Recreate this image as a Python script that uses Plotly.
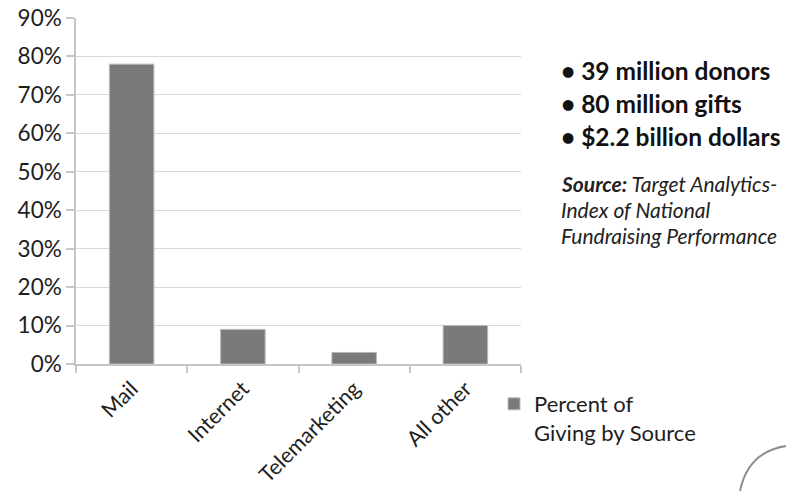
import plotly.graph_objects as go

# Share of giving by channel
categories = ["Mail", "Internet", "Telemarketing", "All other"]
share = [0.78, 0.09, 0.03, 0.10]
series_name = "Percent of<br>Giving by Source"

facts = ["• 39 million donors", "• 80 million gifts", "• $2.2 billion dollars"]
source_lines = ["<b>Source:</b> Target Analytics-", "Index of National", "Fundraising Performance"]

W, H = 786, 491
L, R, T, B = 76, 265, 18, 127
pw, ph = W - L - R, H - T - B


def px(x):
    return (x - L) / pw


def py(y):
    return (H - B - y) / ph


FONT = "Lato, Carlito, Calibri, sans-serif"
TXT = "#1e1e1e"

fig = go.Figure()
fig.add_trace(go.Bar(
    x=categories, y=share, name=series_name,
    marker=dict(color="#7a7a7a", line=dict(color="#b8b8b8", width=1)),
    showlegend=True,
))

fig.update_layout(
    width=W, height=H,
    margin=dict(l=L, r=R, t=T, b=B, autoexpand=False),
    paper_bgcolor="white", plot_bgcolor="white",
    bargap=0.6,
    font=dict(family=FONT, size=22, color=TXT),
    showlegend=True,
    legend=dict(x=px(494), y=py(383), xanchor="left", yanchor="top",
                font=dict(size=22, color=TXT), bgcolor="rgba(0,0,0,0)",
                valign="top", tracegroupgap=0),
    xaxis=dict(type="category", tickangle=-45, showline=True,
               linecolor="#c6c6c6", linewidth=1.5, ticks="outside",
               tickson="boundaries", ticklen=7, tickcolor="#c6c6c6",
               tickwidth=1.5, showgrid=False, fixedrange=True,
               ticklabelstandoff=2, automargin=False,
               tickfont=dict(size=21.5, color=TXT)),
    yaxis=dict(range=[0, 0.9], dtick=0.1, tickformat=".0%",
               showline=True, linecolor="#c6c6c6", linewidth=1.5,
               ticks="outside", ticklen=8, tickcolor="#c6c6c6",
               tickwidth=1.5, showgrid=True, gridcolor="#d9d9d9",
               gridwidth=1.2, zeroline=False, fixedrange=True,
               automargin=False,
               tickfont=dict(size=22.5, color=TXT)),
)

# Headline figures
for i, f in enumerate(facts):
    fig.add_annotation(
        text=f"<b>{f}</b>", xref="paper", yref="paper",
        x=px(559), y=py(71 + i * 32.5), xanchor="left", yanchor="middle",
        showarrow=False, font=dict(size=24.5, color="#111", family=FONT),
    )

# Source note
for i, s in enumerate(source_lines):
    fig.add_annotation(
        text=f"<i>{s}</i>", xref="paper", yref="paper",
        x=px(559), y=py(183 + i * 26), xanchor="left", yanchor="middle",
        showarrow=False, font=dict(size=21, color="#222", family=FONT),
    )

# Decorative corner arc
x0, y0 = px(740), py(491)
xc, yc = px(748), py(452)
x1, y1 = px(786), py(446)
fig.add_shape(
    type="path", xref="paper", yref="paper",
    path=f"M {x0} {y0} Q {xc} {yc} {x1} {y1}",
    line=dict(color="#8c8c8c", width=2),
)

fig.write_html("out.html")
